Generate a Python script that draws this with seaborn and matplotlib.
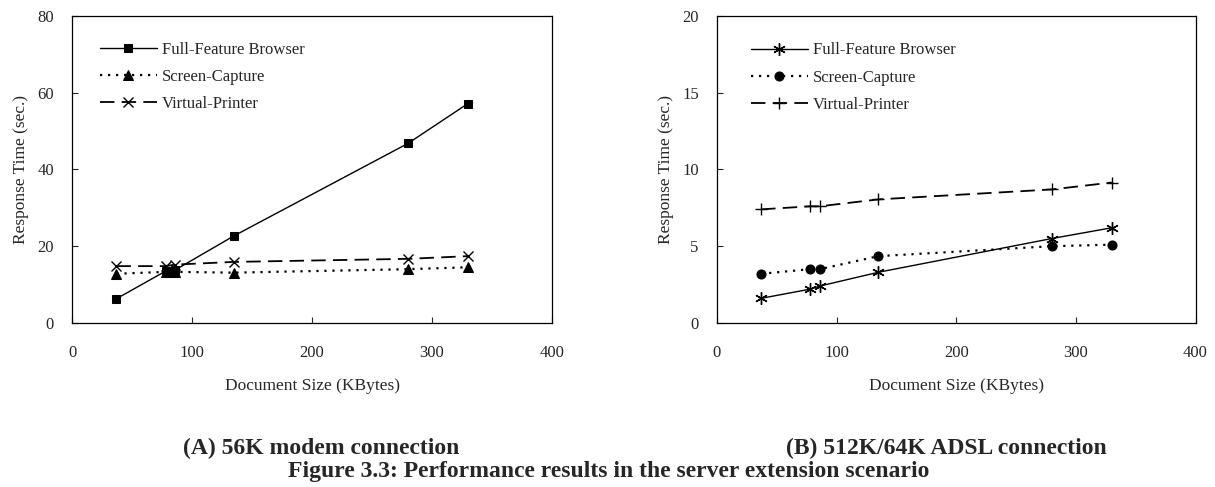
import numpy as np
import pandas as pd
import matplotlib
matplotlib.use('Agg')
import matplotlib.pyplot as plt
import seaborn as sns

# document sizes (KBytes)
doc_size = [37, 78, 86, 135, 280, 330]

# (A) 56K modem
modem_full = [6.3, 13.5, 13.8, 22.7, 46.8, 57.2]
modem_screen = [12.8, 13.3, 13.3, 13.1, 14.0, 14.5]
modem_virtual = [14.8, 14.8, 15.2, 15.9, 16.7, 17.4]

# (B) 512K/64K ADSL
adsl_full = [1.6, 2.2, 2.4, 3.3, 5.5, 6.2]
adsl_screen = [3.2, 3.5, 3.5, 4.35, 5.0, 5.1]
adsl_virtual = [7.4, 7.6, 7.6, 8.05, 8.7, 9.15]

series_names = ['Full-Feature Browser', 'Screen-Capture', 'Virtual-Printer']

sns.set_style('white')
plt.rcParams['font.family'] = ['Liberation Serif', 'DejaVu Serif']

fig = plt.figure(figsize=(12.15, 4.87), dpi=100)
ax1 = fig.add_axes([0.0593, 0.337, 0.395, 0.630])
ax2 = fig.add_axes([0.590, 0.337, 0.394, 0.630])

solid = dict(linestyle='-', linewidth=1.0)
dotted = dict(linestyle=(0, (1, 2.6)), linewidth=1.6)
dashed = dict(linestyle=(0, (8, 4)), linewidth=1.3)

styles_a = [
    dict(marker='s', markersize=6, **solid),
    dict(marker='^', markersize=6.5, **dotted),
    dict(marker='x', markersize=7.5, markeredgewidth=1.0, **dashed),
]
styles_b = [
    dict(marker=(6, 2, 0), markersize=9, markeredgewidth=1.0, **solid),
    dict(marker='o', markersize=6.5, **dotted),
    dict(marker='+', markersize=9, markeredgewidth=1.0, **dashed),
]


def draw(ax, ys, sty, ymax, ystep, leg_anchor):
    for name, y, s in zip(series_names, ys, sty):
        df = pd.DataFrame({'size': doc_size, 'time': y})
        sns.lineplot(data=df, x='size', y='time', ax=ax, color='black',
                     label=name, markeredgecolor='black',
                     markerfacecolor='black', **s)
    ax.set_xlim(0, 400)
    ax.set_ylim(0, ymax)
    ax.set_xticks(np.arange(0, 401, 100))
    ax.set_yticks(np.arange(0, ymax + 1, ystep))
    ax.tick_params(axis='both', direction='in', length=4, width=0.8,
                   labelsize=12, left=True, bottom=True)
    ax.tick_params(axis='x', pad=16)
    ax.tick_params(axis='y', pad=13)
    for sp in ax.spines.values():
        sp.set_color('black')
        sp.set_linewidth(0.9)
    ax.set_xlabel('Document Size (KBytes)', fontsize=12.5, labelpad=12)
    ax.set_ylabel('Response Time (sec.)', fontsize=12.5, labelpad=6)
    ax.legend(loc='upper left', frameon=False, fontsize=12,
              handlelength=3.4, handletextpad=0.3, labelspacing=0.68,
              borderpad=0, borderaxespad=0, bbox_to_anchor=leg_anchor)


draw(ax1, [modem_full, modem_screen, modem_virtual], styles_a, 80, 20, (0.058, 0.917))
draw(ax2, [adsl_full, adsl_screen, adsl_virtual], styles_b, 20, 5, (0.071, 0.914))

fig.text(0.264, 0.080, '(A) 56K modem connection', ha='center', va='center',
         fontsize=17, fontweight='bold')
fig.text(0.779, 0.080, '(B) 512K/64K ADSL connection', ha='center', va='center',
         fontsize=17, fontweight='bold')
fig.text(0.501, 0.031, 'Figure 3.3: Performance results in the server extension scenario',
         ha='center', va='center', fontsize=17, fontweight='bold')

fig.savefig('out.png', dpi=100)
